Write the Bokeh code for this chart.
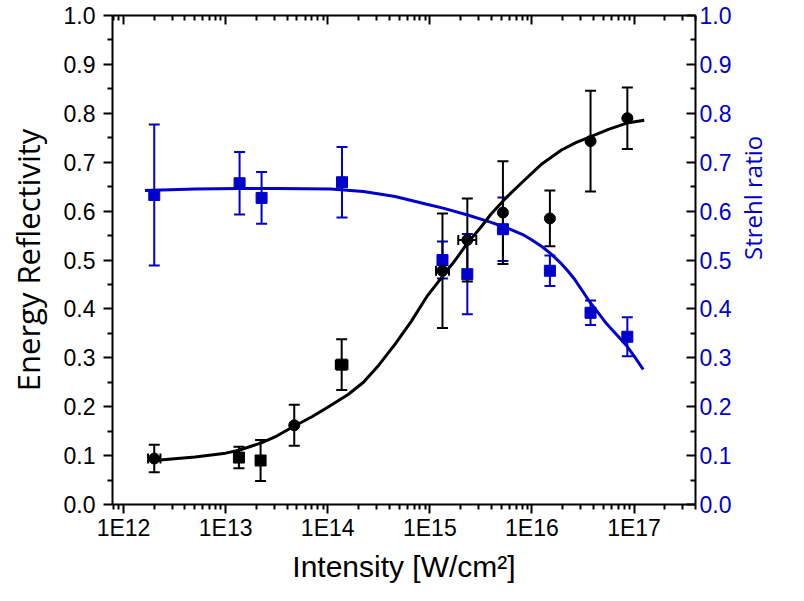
import math
from bokeh.plotting import figure
from bokeh.models import (LogAxis, LinearAxis, Range1d, FixedTicker, CustomJSTickFormatter,
                          PrintfTickFormatter, Whisker, TeeHead, ColumnDataSource)
from bokeh.embed import file_html
from bokeh.resources import INLINE

# ---------------- data ----------------
# Energy reflectivity (black)
refl_intensity = [2.0e12, 1.35e13, 2.2e13, 4.7e13, 1.37e14, 1.33e15, 2.33e15, 5.2e15, 1.5e16, 3.75e16, 8.6e16]
refl_value = [0.094, 0.096, 0.090, 0.162, 0.286, 0.478, 0.541, 0.597, 0.585, 0.743, 0.790]
refl_err = [0.028, 0.022, 0.042, 0.042, 0.052, 0.117, 0.085, 0.105, 0.057, 0.103, 0.063]
refl_marker = ["circle", "square", "square", "circle", "square", "circle", "circle", "circle", "circle", "circle", "circle"]
# horizontal error bars (only where visible)
refl_xerr_y = [0.094, 0.286, 0.478, 0.541]
refl_xerr_lo = [1.74e12, 1.20e14, 1.15e15, 1.90e15]
refl_xerr_hi = [2.30e12, 1.56e14, 1.54e15, 2.85e15]

# Strehl ratio (blue)
strehl_intensity = [2.0e12, 1.37e13, 2.25e13, 1.38e14, 1.33e15, 2.33e15, 5.2e15, 1.5e16, 3.75e16, 8.6e16]
strehl_value = [0.633, 0.657, 0.627, 0.659, 0.500, 0.471, 0.563, 0.478, 0.392, 0.343]
strehl_err = [0.144, 0.064, 0.053, 0.072, 0.038, 0.082, 0.065, 0.031, 0.025, 0.040]

# fitted curves (log10 of intensity, value)
fit_refl_logx = [12.30, 12.70, 13.00, 13.13, 13.35, 13.50, 13.67, 13.85, 14.00, 14.20, 14.35, 14.50,
                 14.66, 14.82, 14.97, 15.13, 15.25, 15.37, 15.50, 15.60, 15.75, 15.91, 16.10, 16.29,
                 16.43, 16.57, 16.75, 16.93, 17.10]
fit_refl_y = [0.090, 0.097, 0.105, 0.111, 0.126, 0.140, 0.160, 0.180, 0.199, 0.225, 0.250, 0.285,
              0.328, 0.375, 0.425, 0.468, 0.500, 0.535, 0.567, 0.594, 0.628, 0.660, 0.697, 0.725,
              0.740, 0.752, 0.767, 0.780, 0.786]
fit_strehl_logx = [12.21, 12.70, 13.13, 13.50, 14.03, 14.35, 14.66, 14.97, 15.13, 15.37, 15.60, 15.75,
                   15.91, 16.00, 16.10, 16.19, 16.29, 16.35, 16.42, 16.50, 16.57, 16.65, 16.73, 16.83,
                   16.93, 17.01, 17.09]
fit_strehl_y = [0.642, 0.645, 0.646, 0.646, 0.645, 0.640, 0.630, 0.614, 0.606, 0.592, 0.577, 0.566,
                0.552, 0.541, 0.527, 0.512, 0.492, 0.478, 0.460, 0.435, 0.413, 0.392, 0.370, 0.347,
                0.324, 0.301, 0.276]

x_major = [1e12, 1e13, 1e14, 1e15, 1e16, 1e17]
y_major = [0.0, 0.1, 0.2, 0.3, 0.4, 0.5, 0.6, 0.7, 0.8, 0.9, 1.0]

BLUE = "#0000CD"
BLACK = "#000000"
TICK_FONT = "Liberation Sans"
TITLE_FONT = "Open Sans"

x_minor = [8e11, 9e11] + [k * 10.0 ** d for d in range(12, 18) for k in range(2, 10) if k * 10.0 ** d <= 4e17]
y_minor = [round(v + 0.05, 2) for v in y_major[:-1]]

p = figure(width=788, height=585, x_axis_type="log",
           x_range=Range1d(7.8e11, 4.0e17), y_range=Range1d(0, 1),
           output_backend="svg", toolbar_location=None,
           min_border_left=112, min_border_right=70, min_border_top=15, min_border_bottom=78)
p.extra_y_ranges = {"strehl": Range1d(0, 1)}
p.xgrid.visible = False
p.ygrid.visible = False
p.outline_line_color = None
p.background_fill_color = "white"
p.border_fill_color = "white"

xt = FixedTicker(ticks=x_major, minor_ticks=x_minor)
yt = FixedTicker(ticks=y_major, minor_ticks=y_minor)
xfmt = CustomJSTickFormatter(code="return '1E' + Math.round(Math.log10(tick));")


def style_axis(ax, tin, tout, label_color=BLACK):
    ax.axis_line_width = 2
    ax.axis_line_color = BLACK
    ax.major_tick_line_width = 2
    ax.minor_tick_line_width = 2
    ax.major_tick_line_color = BLACK
    ax.minor_tick_line_color = BLACK
    ax.major_tick_in = tin[0]
    ax.major_tick_out = tout[0]
    ax.minor_tick_in = tin[1]
    ax.minor_tick_out = tout[1]
    ax.major_label_text_font = TICK_FONT
    ax.major_label_text_font_size = "23px"
    ax.major_label_text_color = label_color
    ax.axis_label_text_font_style = "normal"
    ax.axis_label_text_color = label_color


# bottom axis
xa = p.xaxis[0]
xa.ticker = xt
xa.formatter = xfmt
style_axis(xa, (0, 0), (9, 5))
xa.major_label_standoff = 1
xa.axis_label = "Intensity [W/cm²]"
xa.axis_label_text_font = TICK_FONT
xa.axis_label_text_font_size = "30px"
xa.axis_label_standoff = 6

# left axis
ya = p.yaxis[0]
ya.ticker = yt
ya.formatter = PrintfTickFormatter(format="%.1f")
style_axis(ya, (0, 0), (9, 5))
ya.major_label_standoff = 8
ya.axis_label = "Energy Reflectivity"
ya.axis_label_text_font = TITLE_FONT
ya.axis_label_text_font_size = "31px"
ya.axis_label_standoff = 12

# top axis (ticks only)
ta = LogAxis(ticker=xt, formatter=CustomJSTickFormatter(code="return '';"))
style_axis(ta, (9, 5), (0, 0))
ta.major_label_text_font_size = "0px"
ta.major_label_standoff = 0
p.add_layout(ta, "above")

# right axis, title reading bottom-to-top as in the original
ra = LinearAxis(y_range_name="strehl", ticker=yt, formatter=PrintfTickFormatter(format="%.1f"))
style_axis(ra, (9, 5), (0, 0), label_color=BLUE)
ra.major_label_standoff = 4
ra.axis_label = "Strehl ratio"
ra.axis_label_text_font = TITLE_FONT
ra.axis_label_text_font_size = "24px"
if "axis_label_orientation" in ra.properties():
    ra.axis_label_orientation = math.pi / 2
    ra.axis_label_standoff = 18
else:
    ra.axis_label_standoff = 4
p.add_layout(ra, "right")

# fitted curves
p.line([10 ** v for v in fit_strehl_logx], fit_strehl_y, line_color=BLUE, line_width=3, y_range_name="strehl")
p.line([10 ** v for v in fit_refl_logx], fit_refl_y, line_color=BLACK, line_width=3)

# error bars
s_src = ColumnDataSource(dict(x=strehl_intensity, y=strehl_value,
                              lo=[v - e for v, e in zip(strehl_value, strehl_err)],
                              hi=[v + e for v, e in zip(strehl_value, strehl_err)]))
r_src = ColumnDataSource(dict(x=refl_intensity, y=refl_value, m=refl_marker,
                              lo=[v - e for v, e in zip(refl_value, refl_err)],
                              hi=[v + e for v, e in zip(refl_value, refl_err)]))
rx_src = ColumnDataSource(dict(y=refl_xerr_y, lo=refl_xerr_lo, hi=refl_xerr_hi))

sw = Whisker(source=s_src, base="x", lower="lo", upper="hi", dimension="height",
             line_color=BLUE, line_width=2, y_range_name="strehl",
             upper_head=TeeHead(size=11, line_color=BLUE, line_width=2),
             lower_head=TeeHead(size=11, line_color=BLUE, line_width=2))
p.add_layout(sw)
rw = Whisker(source=r_src, base="x", lower="lo", upper="hi", dimension="height",
             line_color=BLACK, line_width=2,
             upper_head=TeeHead(size=11, line_color=BLACK, line_width=2),
             lower_head=TeeHead(size=11, line_color=BLACK, line_width=2))
p.add_layout(rw)
rxw = Whisker(source=rx_src, base="y", lower="lo", upper="hi", dimension="width",
              line_color=BLACK, line_width=2,
              upper_head=TeeHead(size=10, line_color=BLACK, line_width=2),
              lower_head=TeeHead(size=10, line_color=BLACK, line_width=2))
p.add_layout(rxw)

# markers
p.scatter("x", "y", source=s_src, marker="square", size=11, fill_color=BLUE, line_color=BLUE,
          y_range_name="strehl")
p.scatter("x", "y", source=r_src, marker="m", size=11, fill_color=BLACK, line_color=BLACK)

open("out.html", "w").write(file_html(p, INLINE))
